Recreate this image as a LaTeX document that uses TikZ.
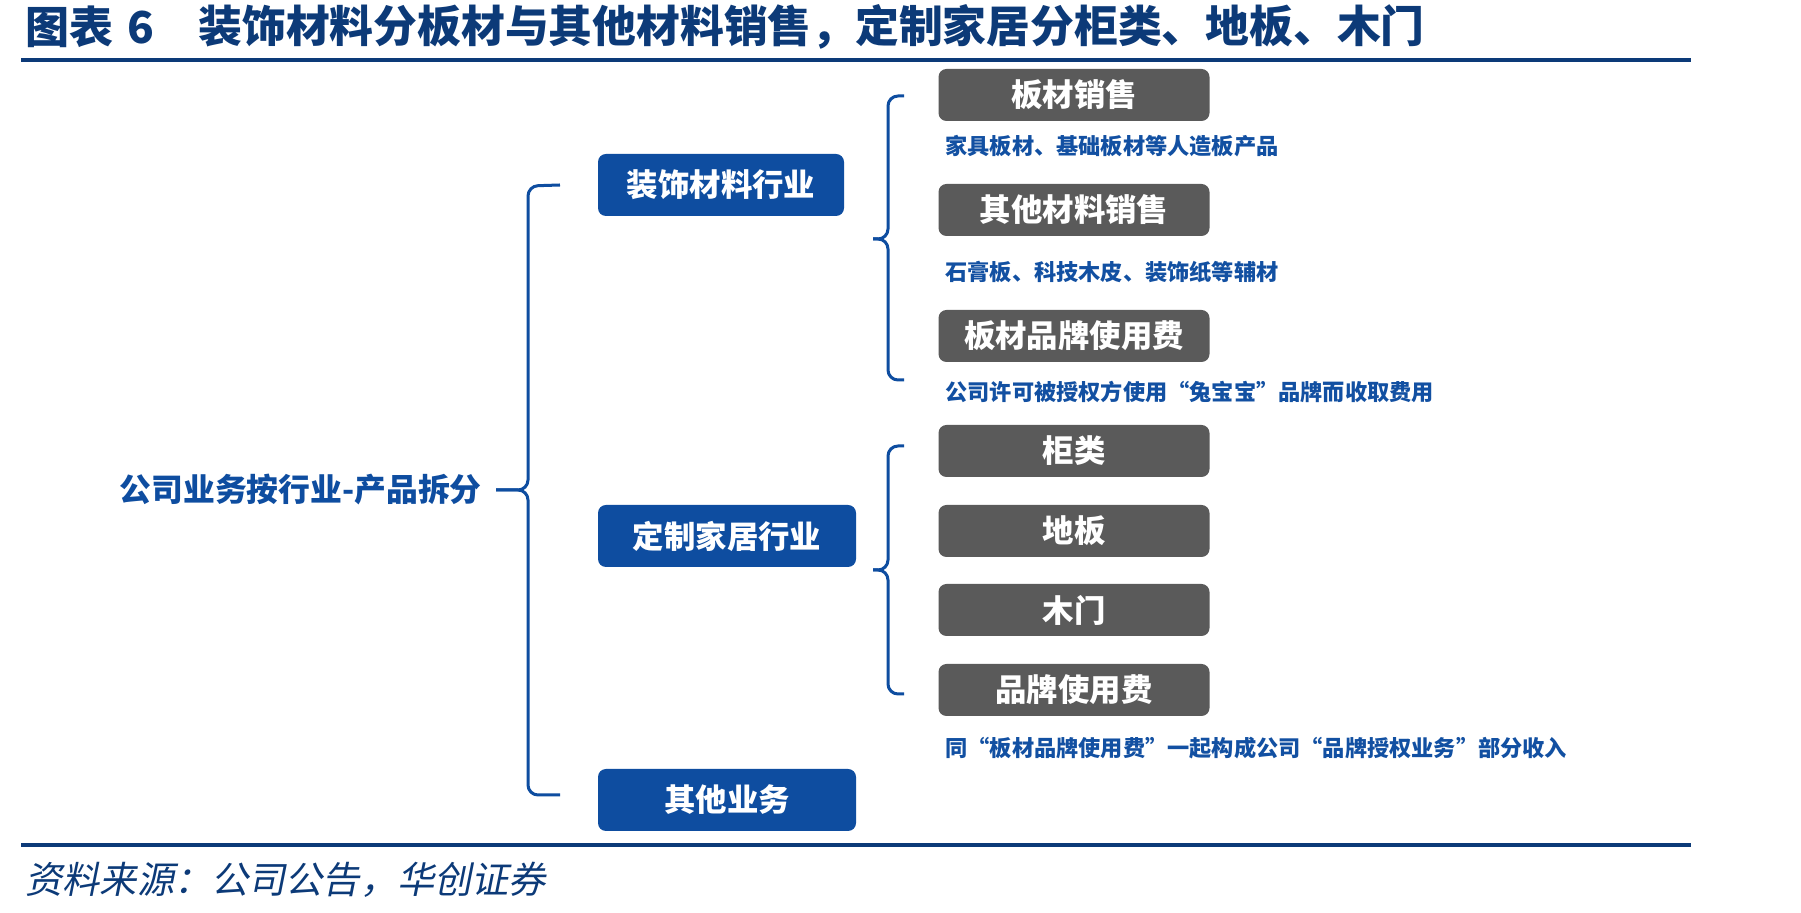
\documentclass[tikz,border=0pt]{standalone}
\usepackage{fontspec}
\usepackage{xcolor}
\usepackage{tikz}
\usetikzlibrary{positioning}
\setmainfont{Noto Sans CJK SC}
\newfontfamily\cjkslant[FakeSlant=0.2]{Noto Sans CJK SC}
\definecolor{titleblue}{RGB}{12,58,120}
\definecolor{boxblue}{RGB}{14,77,160}
\definecolor{boxgray}{RGB}{90,90,90}
\definecolor{noteblue}{RGB}{18,80,162}

\tikzset{
    bluebox/.style={fill=boxblue, rounded corners=4pt, text=white, inner sep=0pt,
        font=\fontsize{15.7}{18}\selectfont\bfseries, minimum height=31pt},
    graybox/.style={fill=boxgray, rounded corners=4pt, text=white, inner sep=0pt,
        font=\fontsize{15.7}{18}\selectfont\bfseries, minimum width=135.5pt, minimum height=26pt},
    note/.style={text=noteblue, inner sep=0pt, anchor=west,
        font=\fontsize{11.1}{13}\selectfont\bfseries},
    brace/.style={draw=boxblue, line width=1.5pt, rounded corners=5pt},
    rule/.style={draw=titleblue, line width=2pt}
}

\begin{document}
\begin{tikzpicture}[x=0.5pt, y=-0.5pt]

\fill[white] (0,0) rectangle (1801,913);
\useasboundingbox (0,0) rectangle (1801,913);

% title and rules
\node[anchor=west, inner sep=0pt, text=titleblue, font=\fontsize{22}{24}\selectfont\bfseries] (fignum) at (25,27) {图表\hspace{7pt}6};
\node[anchor=west, inner sep=0pt, text=titleblue, font=\fontsize{21.9}{24}\selectfont\bfseries] (title) at (198,27)
    {装饰材料分板材与其他材料销售，定制家居分柜类、地板、木门};
\coordinate (ruleTL) at (21,60);
\coordinate (ruleTR) at (1691,60);
\coordinate (ruleBL) at (21,845);
\coordinate (ruleBR) at (1691,845);
\draw[rule] (ruleTL) -- (ruleTR);
\draw[rule] (ruleBL) -- (ruleBR);
\node[anchor=west, inner sep=0pt, text=titleblue, font=\cjkslant\fontsize{18.6}{20}\selectfont] (source) at (25,880)
    {资料来源：公司公告，华创证券};

% root and industries
\node[anchor=east, inner sep=0pt, text=boxblue, font=\fontsize{15.9}{18}\selectfont\bfseries] (root) at (482,490)
    {公司业务按行业-产品拆分};
\node[bluebox, minimum width=123pt] (deco) at (721,185) {装饰材料行业};
\node[bluebox, minimum width=129pt] (home) at (727,536) {定制家居行业};
\node[bluebox, minimum width=129pt] (other) at (727,800) {其他业务};

% products
\node[graybox] (board) at (1074,95) {板材销售};
\node[graybox] (othermat) at (1074,210) {其他材料销售};
\node[graybox] (boardfee) at (1074,336) {板材品牌使用费};
\node[graybox] (cabinet) at (1074,451) {柜类};
\node[graybox] (floor) at (1074,531) {地板};
\node[graybox] (door) at (1074,610) {木门};
\node[graybox] (brandfee) at (1074,690) {品牌使用费};

\node[note] (boardnote) at (945,146) {家具板材、基础板材等人造板产品};
\node[note] (othernote) at (945,272) {石膏板、科技木皮、装饰纸等辅材};
\node[note] (feenote) at (945,392) {公司许可被授权方使用“兔宝宝”品牌而收取费用};
\node[note] (brandnote) at (945,748) {同“板材品牌使用费”一起构成公司“品牌授权业务”部分收入};

% braces
\coordinate (rootTip) at (496,490);
\coordinate (decoTip) at (873,239);
\coordinate (homeTip) at (873,570);

\draw[brace] (deco.west -| 560,0) -- (528,186) -- (528,490) -- (rootTip);
\draw[brace] (rootTip) -- (528,490) -- (528,795) -- (560,795);

\draw[brace] (904,96) -- (888,96) -- (888,239) -- (decoTip);
\draw[brace] (decoTip) -- (888,239) -- (888,380) -- (904,380);

\draw[brace] (904,446) -- (888,446) -- (888,570) -- (homeTip);
\draw[brace] (homeTip) -- (888,570) -- (888,694) -- (904,694);

\end{tikzpicture}
\end{document}
